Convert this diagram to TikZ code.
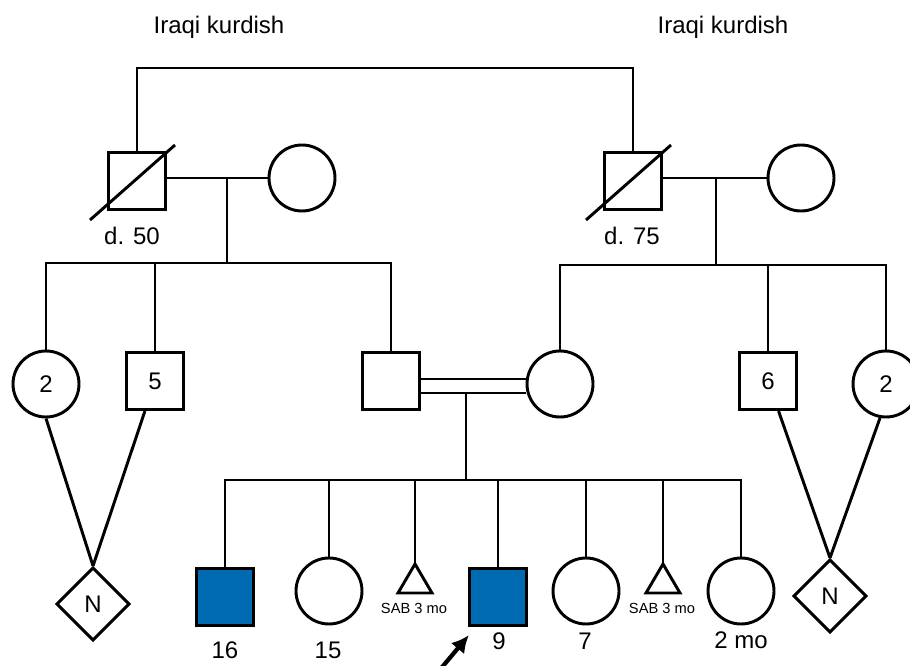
\documentclass[tikz,border=0pt]{standalone}
\usepackage{fontspec}
\setmainfont{Liberation Sans}
\usetikzlibrary{shapes.geometric,arrows.meta}
\definecolor{affblue}{RGB}{0,106,178}

\begin{document}
\begin{tikzpicture}[x=0.75pt,y=-0.75pt,line width=2.2pt,font=\fontsize{18}{20}\selectfont,
		male/.style={draw,rectangle,minimum size=43pt,inner sep=0pt},
		female/.style={draw,circle,minimum size=49.5pt,inner sep=0pt},
		affected/.style={male,fill=affblue},
		unknown/.style={draw,diamond,minimum size=55pt,inner sep=0pt},
		sablabel/.style={font=\fontsize{11}{13}\selectfont}]
		\useasboundingbox (0,0) rectangle (910,666);
		\node (ethL) at (219,27) {Iraqi kurdish};
		\node (ethR) at (723,27) {Iraqi kurdish};
		\node[male] (gfL) at (137,181) {};
		\node[female] (gmL) at (302,178) {};
		\node[male] (gfR) at (633,181) {};
		\node[female] (gmR) at (801,178) {};
		\draw ([shift={(-47,39)}]gfL.center) -- ([shift={(38,-36)}]gfL.center);
		\draw ([shift={(-47,39)}]gfR.center) -- ([shift={(38,-36)}]gfR.center);
		\node (dL) at (132,236) {d. 50};
		\node (dR) at (632,236) {d. 75};
		\coordinate (top) at (380,68);
		\draw (gfL.north) |- (top) -| (gfR.north);
		\coordinate (mL) at (227,178);
		\coordinate (sibL) at (227,263);
		\coordinate (mR) at (716,178);
		\coordinate (sibR) at (716,265);
		\draw (gfL.east |- gmL) -- (gmL.west);
		\draw (gfR.east |- gmR) -- (gmR.west);
		\draw (mL) -- (sibL);
		\draw (mR) -- (sibR);
		\node[female] (c2L) at (46,384) {2};
		\node[male] (s5) at (155,381) {5};
		\node[male] (husb) at (391,381) {};
		\node[female] (wife) at (560,384) {};
		\node[male] (s6) at (768,381) {6};
		\node[female] (c2R) at (886,384) {2};
		\draw (sibL) -| (c2L.north);
		\draw (sibL) -| (s5.north);
		\draw (sibL) -| (husb.north);
		\draw (sibR) -| (wife.north);
		\draw (sibR) -| (s6.north);
		\draw (sibR) -| (c2R.north);
		\draw (husb.east |- 0,379) -- (wife.west |- 0,379);
		\draw (husb.east |- 0,393) -- (wife.west |- 0,393);
		\node[unknown] (nL) at (93,604) {N};
		\node[unknown] (nR) at (830,596) {N};
		\draw (c2L.south) -- (nL.north);
		\draw (s5) -- (nL.north);
		\draw (s6) -- (nR.north);
		\draw (c2R.260) -- (nR.north);
		\coordinate (dbl) at (466,393);
		\coordinate (sibC) at (466,480);
		\draw (dbl) -- (sibC);
		\node[affected] (s16) at (225,597) {};
		\node[female] (c15) at (329,591) {};
		\coordinate (sab1) at (415,564);
		\node[affected] (s9) at (498,597) {};
		\node[female] (c7) at (586,591) {};
		\coordinate (sab2) at (663,564);
		\node[female] (c2mo) at (741,591) {};
		\draw (sibC) -| (s16.north);
		\draw (sibC) -| (c15.north);
		\draw (sibC) -| (sab1);
		\draw (sibC) -| (s9.north);
		\draw (sibC) -| (c7.north);
		\draw (sibC) -| (sab2);
		\draw (sibC) -| (c2mo.north);
		\draw[line join=miter] (sab1) -- ++(17,29) -- ++(-34,0) -- cycle;
		\draw[line join=miter] (sab2) -- ++(17,29) -- ++(-34,0) -- cycle;
		\node[sablabel] (lsab1) at (414,608) {SAB 3 mo};
		\node[sablabel] (lsab2) at (662,608) {SAB 3 mo};
		\node (l16) at (225,650) {16};
		\node (l15) at (328,650) {15};
		\node (l9) at (499,641) {9};
		\node (l7) at (585,641) {7};
		\node (l2mo) at (741,640) {2 mo};
		\coordinate (pointer) at (438,672);
		\draw[-{Latex[length=13pt,width=13pt]},line width=3.2pt] (pointer) -- ([shift={(1,8)}]s9.south west);
	\end{tikzpicture}
\end{document}
